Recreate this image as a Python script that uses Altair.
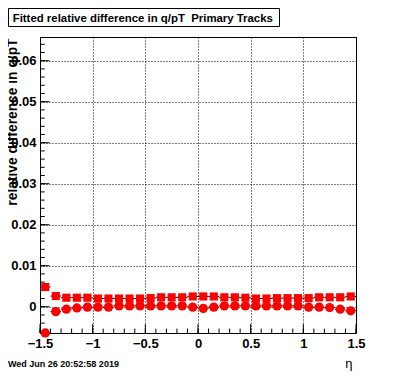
import altair as alt
import pandas as pd

# ---------------- data ----------------
eta = [-1.45, -1.35, -1.25, -1.15, -1.05, -0.95, -0.85, -0.75, -0.65, -0.55,
       -0.45, -0.35, -0.25, -0.15, -0.05, 0.05, 0.15, 0.25, 0.35, 0.45,
       0.55, 0.65, 0.75, 0.85, 0.95, 1.05, 1.15, 1.25, 1.35, 1.45]
bin_half = [0.05] * 30

squares = [0.0048, 0.0026, 0.0022, 0.0022, 0.0022, 0.0020, 0.0020, 0.0020, 0.0020, 0.0020,
           0.0021, 0.0023, 0.0023, 0.0023, 0.0025, 0.0025, 0.0025, 0.0023, 0.0023, 0.0022,
           0.0020, 0.0020, 0.0021, 0.0021, 0.0021, 0.0021, 0.0023, 0.0023, 0.0023, 0.0025]
circles = [-0.0064, -0.0012, -0.0006, -0.0003, -0.0001, -0.0001, -0.0001, 0.0002, 0.0002, 0.0002,
           0.0002, 0.0002, 0.0002, 0.0002, -0.0001, -0.0004, -0.0001, 0.0002, 0.0002, 0.0002,
           0.0002, 0.0002, 0.0002, 0.0002, 0.0002, -0.0001, -0.0001, -0.0002, -0.0006, -0.0010]

x_major = [-1.5, -1.0, -0.5, 0.0, 0.5, 1.0, 1.5]
x_minor = [-1.5, -1.4, -1.3, -1.2, -1.1, -1.0, -0.9, -0.8, -0.7, -0.6, -0.5, -0.4, -0.3,
           -0.2, -0.1, 0.0, 0.1, 0.2, 0.3, 0.4, 0.5, 0.6, 0.7, 0.8, 0.9, 1.0, 1.1, 1.2,
           1.3, 1.4, 1.5]
y_major = [0.0, 0.01, 0.02, 0.03, 0.04, 0.05, 0.06]
y_minor = [-0.006, -0.004, -0.002, 0.0, 0.002, 0.004, 0.006, 0.008, 0.01, 0.012, 0.014,
           0.016, 0.018, 0.02, 0.022, 0.024, 0.026, 0.028, 0.03, 0.032, 0.034, 0.036,
           0.038, 0.04, 0.042, 0.044, 0.046, 0.048, 0.05, 0.052, 0.054, 0.056, 0.058,
           0.06, 0.062, 0.064]

title_text = "Fitted relative difference in q/pT \u00a0Primary Tracks"
y_title = "relative difference in q/pT"
x_title = "\u03b7"
date_text = "Wed Jun 26 20:52:58 2019"

# ---------------- tables ----------------
pts = pd.DataFrame({
    "eta": eta * 2,
    "lo": [e - h for e, h in zip(eta, bin_half)] * 2,
    "hi": [e + h for e, h in zip(eta, bin_half)] * 2,
    "val": squares + circles,
    "kind": ["square"] * 30 + ["circle"] * 30,
})
sq_df = pts[pts.kind == "square"]
ci_df = pts[pts.kind == "circle"]

FONT = "Liberation Sans"
W, H = 316, 296
xs = alt.Scale(domain=[-1.5, 1.5], nice=False, zero=False)
ys = alt.Scale(domain=[-0.00641, 0.06578], nice=False, zero=False)

xaxis = alt.Axis(values=x_major, format=".1~f", grid=True, labelPadding=4,
                 labelFlush=False, labelOverlap=False, labelBound=False,
                 title=x_title, titleX=312, titleY=34, titleAlign="right",
                 titleBaseline="alphabetic", titleFontWeight="normal",
                 titleFontSize=13, titleFont=FONT)
yaxis = alt.Axis(values=y_major, format=".2~f", grid=True, labelPadding=4,
                 labelOverlap=False, labelBound=False, labelFlush=False,
                 title=y_title, titleAngle=270, titleX=-24, titleY=1,
                 titleAlign="right", titleBaseline="alphabetic",
                 titleFontWeight="bold", titleFontSize=13.8, titleFont=FONT)


def X(field):
    return alt.X(field, scale=xs, axis=xaxis, title=x_title)


def Y(field):
    return alt.Y(field, scale=ys, axis=yaxis, title=y_title)


# error bars (horizontal bin width)
bars = alt.Chart(pts).mark_rule(color="black", strokeWidth=1).encode(
    x=X("lo:Q"), x2="hi:Q", y=Y("val:Q"),
)

sq_mark = alt.Chart(sq_df).mark_point(shape="square", filled=True, size=66,
                                      color="#ff0000", opacity=1).encode(
    x=X("eta:Q"), y=Y("val:Q"),
)
ci_mark = alt.Chart(ci_df).mark_point(shape="circle", filled=True, size=86,
                                      color="#ff0000", opacity=1).encode(
    x=X("eta:Q"), y=Y("val:Q"),
)

# inward ticks
yminor = alt.Chart(pd.DataFrame({"v": y_minor})).mark_rule(color="black").encode(
    y=Y("v:Q"), x=alt.value(0), x2=alt.value(4.7))
ymajor = alt.Chart(pd.DataFrame({"v": y_major})).mark_rule(color="black").encode(
    y=Y("v:Q"), x=alt.value(0), x2=alt.value(9.5))
xminor = alt.Chart(pd.DataFrame({"v": x_minor})).mark_rule(color="black").encode(
    x=X("v:Q"), y=alt.value(H), y2=alt.value(H - 4.4))
xmajor = alt.Chart(pd.DataFrame({"v": x_major})).mark_rule(color="black").encode(
    x=X("v:Q"), y=alt.value(H), y2=alt.value(H - 8.9))

# title box
tdf = pd.DataFrame({"t": [title_text]})
tbox = alt.Chart(tdf).mark_rect(fill="white", stroke="black", strokeWidth=1).encode(
    x=alt.value(-31.5), x2=alt.value(239.5), y=alt.value(-28.5), y2=alt.value(-10.5))
ttext = alt.Chart(tdf).mark_text(font=FONT, fontWeight="bold", fontSize=11.4,
                                 align="left", baseline="alphabetic", color="black").encode(
    x=alt.value(-27.3), y=alt.value(-15.3), text="t:N")

ddf = pd.DataFrame({"t": [date_text]})
dtext = alt.Chart(ddf).mark_text(font=FONT, fontWeight="bold", fontSize=9,
                                 align="left", baseline="alphabetic", color="black").encode(
    x=alt.value(-32), y=alt.value(330), text="t:N")

chart = alt.layer(bars, yminor, ymajor, xminor, xmajor, sq_mark, ci_mark,
                  tbox, ttext, dtext).properties(
    width=W, height=H,
    autosize=alt.AutoSizeParams(type="none"),
    padding={"left": 32, "top": 29, "right": 32, "bottom": 39},
    background="white",
).configure_view(stroke="black", strokeWidth=1).configure_axis(
    domainColor="black", domainWidth=1, ticks=False, tickSize=0,
    labelFont=FONT, labelFontWeight="bold", labelFontSize=13, labelColor="black",
    gridColor="black", gridDash=[1, 2], gridOpacity=1, gridWidth=1,
    titleColor="black",
)

chart.save("out.html", embed_options={"renderer": "svg", "actions": False})
